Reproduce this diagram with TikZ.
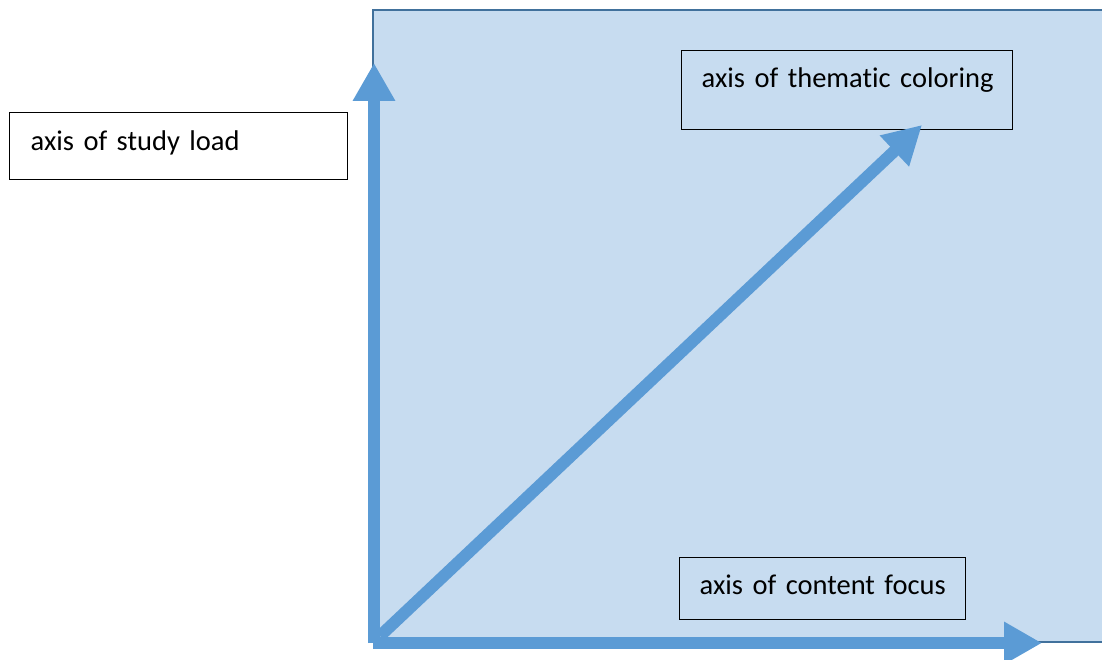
\documentclass[tikz,border=0pt]{standalone}
\usepackage{fontspec}
\setmainfont{Carlito}[RawFeature=-liga]
\usetikzlibrary{arrows.meta}
\definecolor{bgblue}{RGB}{199,220,240}
\definecolor{edgeblue}{RGB}{65,113,156}
\definecolor{arrowblue}{RGB}{91,155,213}
\tikzset{
  labelbox/.style={draw=black, line width=1.3pt, anchor=north west, inner sep=0pt, align=left, font=\fontsize{28.5}{32}\selectfont},
  axisarrow/.style={draw=arrowblue, line width=12pt, -{Triangle[width=40pt,length=38pt]}}
}
\begin{document}
\begin{tikzpicture}[x=1pt,y=-1pt]
\useasboundingbox (0,0) rectangle (1102,660);
% background panel
\fill[bgblue] (373,10) rectangle (1102,642);
\draw[edgeblue, line width=2pt] (1103,642) -- (373,642) -- (373,10) -- (1103,10);
% label boxes
\node[labelbox, text width=338pt, text height=38pt, text depth=29pt] (load) at (9,112)
  {\hspace*{21pt}axis of study load};
\node[labelbox, fill=bgblue, text width=331pt, text height=37pt, text depth=42pt] (them) at (681,50)
  {\hspace*{20pt}axis of thematic coloring};
\node[labelbox, fill=bgblue, text width=286pt, text height=37pt, text depth=25pt] (cont) at (679,557)
  {\hspace*{20pt}axis of content focus};
% axes
\coordinate (origin) at (374,643);
\coordinate (ytip) at (374,63);
\coordinate (xtip) at (1042,643);
\coordinate (dstart) at (380,636);
\coordinate (dtip) at (922,125);
\draw[axisarrow, line cap=butt] (origin) -- (ytip);
\draw[axisarrow] ([xshift=-1pt]origin) -- (xtip);
\draw[axisarrow] (dstart) -- (dtip);
\end{tikzpicture}
\end{document}
